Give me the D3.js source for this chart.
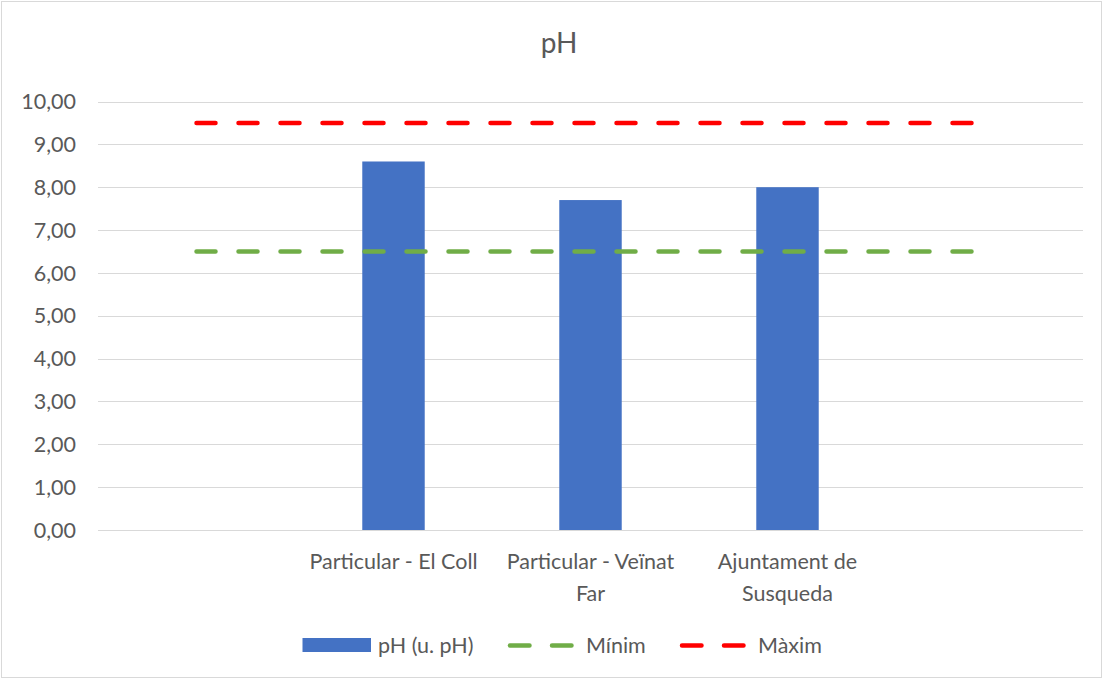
<!DOCTYPE html>
<html>
<head>
<meta charset="utf-8">
<script src="https://cdn.jsdelivr.net/npm/d3@7"></script>
<style>
    body { margin: 0; background: #ffffff; }
    svg { display: block; font-family: Lato, "Open Sans", sans-serif; }
    .tick-label { fill: #595959; font-size: 21.5px; }
</style>
</head>
<body>
<svg id="chart" width="1103" height="679"></svg>
<script>
// chart values
const categories = ["", "Particular - El Coll", "Particular - Veïnat Far", "Ajuntament de Susqueda", ""];
const phValues = [null, 8.6, 7.7, 8.0, null];
const minimValues = [6.5, 6.5, 6.5, 6.5, 6.5];
const maximValues = [9.5, 9.5, 9.5, 9.5, 9.5];
const yTicks = [0, 1, 2, 3, 4, 5, 6, 7, 8, 9, 10];

const box = {
    width: 1103,
    height: 679,
    margin: { top: 101.5, right: 20, bottom: 149, left: 98 }
};

const svg = d3.select("#chart");
const innerLeft = box.margin.left;
const innerRight = box.width - box.margin.right;
const innerTop = box.margin.top;
const innerBottom = box.height - box.margin.bottom;

const x = d3.scaleBand()
    .domain(d3.range(categories.length))
    .range([innerLeft, innerRight])
    .paddingInner(0)
    .paddingOuter(0);

const y = d3.scaleLinear()
    .domain([0, 10])
    .range([innerBottom, innerTop]);

const fmt = v => d3.format(".2f")(v).replace(".", ",");

// outer chart border
svg.append("rect")
    .attr("x", 1.5)
    .attr("y", 1.5)
    .attr("width", box.width - 3)
    .attr("height", box.height - 3)
    .attr("fill", "#ffffff")
    .attr("stroke", "#d9d9d9");

svg.append("text")
    .attr("x", 559)
    .attr("y", 52.5)
    .attr("text-anchor", "middle")
    .attr("fill", "#595959")
    .style("font-size", "28px")
    .text("pH");

// gridlines
svg.append("g")
    .selectAll("line")
    .data(yTicks)
    .join("line")
    .attr("x1", innerLeft)
    .attr("x2", innerRight)
    .attr("y1", d => Math.round(y(d)) + 0.5)
    .attr("y2", d => Math.round(y(d)) + 0.5)
    .attr("stroke", "#d9d9d9")
    .attr("stroke-width", 1.2);

svg.append("g")
    .selectAll("text")
    .data(yTicks)
    .join("text")
    .attr("class", "tick-label")
    .attr("x", 76)
    .attr("y", d => y(d))
    .attr("dy", "0.36em")
    .attr("text-anchor", "end")
    .text(fmt);

// bars
const barWidth = x.bandwidth() * 0.317;
svg.append("g")
    .selectAll("rect")
    .data(phValues.map((v, i) => ({ v, i })).filter(d => d.v !== null))
    .join("rect")
    .attr("x", d => x(d.i) + (x.bandwidth() - barWidth) / 2)
    .attr("y", d => y(d.v))
    .attr("width", barWidth)
    .attr("height", d => y(0) - y(d.v))
    .attr("fill", "#4472c4");

// dashed limit lines
const limitLine = d3.line()
    .x((d, i) => x(i) + x.bandwidth() / 2)
    .y(d => y(d));

[[minimValues, "#70ad47"], [maximValues, "#ff0000"]].forEach(([vals, colour]) => {
    svg.append("path")
        .attr("d", limitLine(vals))
        .attr("fill", "none")
        .attr("stroke", colour)
        .attr("stroke-width", 4.5)
        .attr("stroke-linecap", "round")
        .attr("stroke-dasharray", "19 23");
});

// category labels, wrapped to band width
function wrapLabel(textSel, maxWidth) {
    textSel.each(function (label) {
        const text = d3.select(this);
        const words = label.split(" ");
        const cx = +text.attr("x");
        let line = [];
        let tspan = text.text(null).append("tspan").attr("x", cx).attr("dy", 0);
        for (const word of words) {
            line.push(word);
            tspan.text(line.join(" "));
            if (tspan.node().getComputedTextLength() > maxWidth && line.length > 1) {
                line.pop();
                tspan.text(line.join(" "));
                line = [word];
                tspan = text.append("tspan").attr("x", cx).attr("dy", "32px").text(word);
            }
        }
    });
}

svg.append("g")
    .selectAll("text")
    .data(categories.map((c, i) => ({ c, i })).filter(d => d.c))
    .join("text")
    .attr("class", "tick-label")
    .attr("x", d => x(d.i) + x.bandwidth() / 2)
    .attr("y", 568.5)
    .attr("text-anchor", "middle")
    .datum(d => d.c)
    .call(wrapLabel, 188);

// legend
const legend = svg.append("g").attr("class", "tick-label");

legend.append("rect")
    .attr("x", 302.5)
    .attr("y", 638)
    .attr("width", 68.5)
    .attr("height", 14)
    .attr("fill", "#4472c4");

legend.append("text").attr("x", 378).attr("y", 652.5).text("pH (u. pH)");

[[510, "#70ad47", "Mínim", 586], [682, "#ff0000", "Màxim", 758]].forEach(([x0, colour, label, tx]) => {
    legend.append("line")
        .attr("x1", x0)
        .attr("x2", x0 + 61.5)
        .attr("y1", 645.5)
        .attr("y2", 645.5)
        .attr("stroke", colour)
        .attr("stroke-width", 4.5)
        .attr("stroke-linecap", "round")
        .attr("stroke-dasharray", "19.5 22.5");
    legend.append("text").attr("x", tx).attr("y", 652.5).text(label);
});
</script>
</body>
</html>
